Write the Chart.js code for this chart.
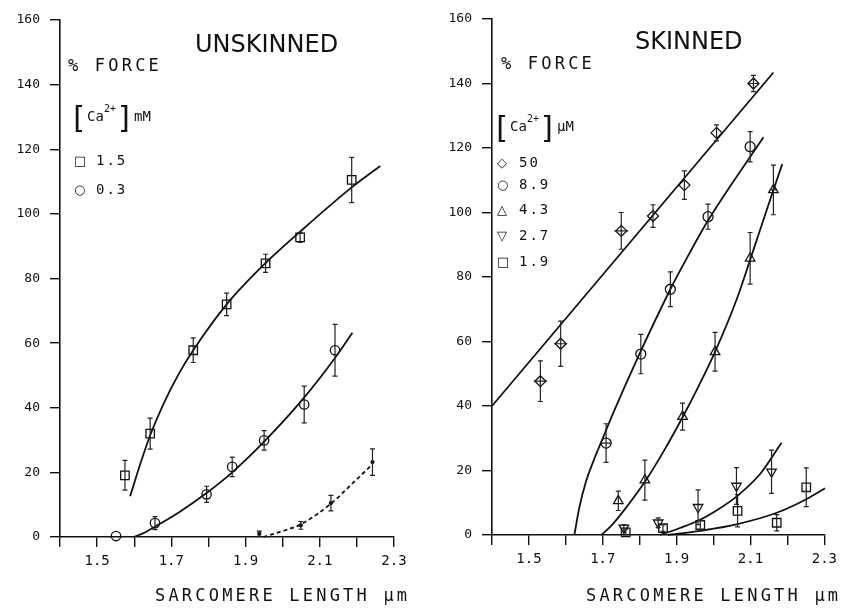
<!DOCTYPE html>
<html>
<head>
<meta charset="utf-8">
<script src="https://cdn.jsdelivr.net/npm/chart.js@4.4.1/dist/chart.umd.min.js"></script>
<style>
    body { margin: 0; background: #fff; width: 843px; height: 608px; overflow: hidden; position: relative;
           font-family: "DejaVu Sans Mono", monospace; color: #111; }
    canvas { position: absolute; top: 0; }
    #leftChart { left: 0; }
    #rightChart { left: 420px; }
    .t { position: absolute; white-space: nowrap; line-height: 1; }
    .title { font-family: "DejaVu Sans", sans-serif; font-size: 24px; }
    .lab { font-size: 17px; letter-spacing: 3.2px; }
    .leg { font-size: 14px; letter-spacing: 2px; }
    .mk { display: inline-block; width: 22px; font-family: "DejaVu Sans", sans-serif; font-size: 13px; letter-spacing: 0; }
    .ca { font-size: 14px; }
    .ca .br { font-size: 30px; font-weight: 200; vertical-align: -7px; }
    .ca sup { font-size: 10px; vertical-align: 9px; }
</style>
</head>
<body>
<canvas id="leftChart" width="420" height="608"></canvas>
<canvas id="rightChart" width="423" height="608"></canvas>

<div class="t title" style="left:195px;top:32px">UNSKINNED</div>
<div class="t title" style="left:635px;top:29px">SKINNED</div>
<div class="t lab" style="left:68px;top:57px">% FORCE</div>
<div class="t lab" style="left:501px;top:55px">% FORCE</div>
<div class="t lab" style="left:155px;top:587px">SARCOMERE LENGTH µm</div>
<div class="t lab" style="left:586px;top:587px">SARCOMERE LENGTH µm</div>

<div class="t ca" style="left:69px;top:103px"><span class="br">[</span>Ca<sup>2+</sup><span class="br">]</span>mM</div>
<div class="t leg" style="left:74px;top:153px"><span class="mk">□</span>1.5</div>
<div class="t leg" style="left:74px;top:182px"><span class="mk">○</span>0.3</div>

<div class="t ca" style="left:492px;top:113px"><span class="br">[</span>Ca<sup>2+</sup><span class="br">]</span>µM</div>
<div class="t leg" style="left:497px;top:155px"><span class="mk">◇</span>50</div>
<div class="t leg" style="left:497px;top:177px"><span class="mk">○</span>8.9</div>
<div class="t leg" style="left:497px;top:202px"><span class="mk">△</span>4.3</div>
<div class="t leg" style="left:497px;top:228px"><span class="mk">▽</span>2.7</div>
<div class="t leg" style="left:497px;top:254px"><span class="mk">□</span>1.9</div>

<script>
    // ===== 坐标轴刻度 =====
    const xTickValues = [1.4, 1.5, 1.6, 1.7, 1.8, 1.9, 2.0, 2.1, 2.2, 2.3];
    const xTickLabels = ["", "1.5", "", "1.7", "", "1.9", "", "2.1", "", "2.3"];
    const yTickValues = [0, 20, 40, 60, 80, 100, 120, 140, 160];

    // ===== UNSKINNED =====
    // [Ca2+] 1.5 mM (方块)
    const unSqX   = [1.575, 1.643, 1.759, 1.849, 1.954, 2.047, 2.186];
    const unSqY   = [19.1, 32, 57.8, 72, 84.7, 92.7, 110.5];
    const unSqErr = [4.6, 4.8, 3.8, 3.5, 2.8, 1.5, 7];
    const unSqFitX = [1.589, 1.616, 1.643, 1.678, 1.72, 1.759, 1.849, 1.954, 2.047, 2.186, 2.263];
    const unSqFitY = [12.6, 22.5, 31.5, 41, 50.5, 57.8, 72, 84.8, 94.5, 108.2, 114.8];

    // [Ca2+] 0.3 mM (圆圈)
    const unCiX   = [1.551, 1.656, 1.795, 1.864, 1.950, 2.058, 2.141];
    const unCiY   = [0.3, 4.3, 13.2, 21.7, 29.9, 41, 57.8];
    const unCiErr = [0, 2, 2.5, 3, 3, 5.7, 8];
    const unCiFitX = [1.598, 1.625, 1.656, 1.72, 1.795, 1.864, 1.950, 2.056, 2.141, 2.188];
    const unCiFitY = [0, 1.2, 3.2, 7.6, 13.6, 20, 29.5, 42.9, 55.4, 63.2];

    // 虚线 (小点)
    const unDotX   = [1.937, 2.049, 2.130, 2.242];
    const unDotY   = [1.0, 3.6, 10.5, 23.2];
    const unDotErr = [0.8, 1.2, 2.4, 4.1];
    const unDotFitX = [1.948, 1.993, 2.049, 2.130, 2.190, 2.242];
    const unDotFitY = [0, 1.6, 3.9, 10.3, 16.8, 22.5];

    // ===== SKINNED =====
    // 50 µM (菱形)
    const skDiX    = [1.531, 1.586, 1.750, 1.836, 1.921, 2.008, 2.108];
    const skDiY    = [47.7, 59.3, 94.3, 98.9, 108.5, 124.7, 140];
    const skDiErr  = [6.3, 7, 5.7, 3.5, 4.4, 2.5, 2.5];
    const skDiXErr = [0.018, 0.018, 0.019, 0, 0, 0, 0.013];
    const skDiFitX = [1.4, 2.162];
    const skDiFitY = [40, 143.4];

    // 8.9 µM (圆圈)
    const skCiX    = [1.709, 1.803, 1.883, 1.985, 2.099];
    const skCiY    = [28.5, 56.1, 76.2, 98.7, 120.4];
    const skCiErr  = [6, 6.1, 5.4, 3.9, 4.7];
    const skCiXErr = [0.015, 0, 0, 0, 0];
    const skCiFitX = [1.623, 1.637, 1.653, 1.676, 1.700, 1.729, 1.796, 1.883, 1.925, 1.985, 2.135];
    const skCiFitY = [0, 8.8, 16, 23.3, 30, 38, 55.3, 76.2, 85.3, 97.5, 123.3];

    // 4.3 µM (正三角)
    const skTuX    = [1.742, 1.814, 1.916, 2.004, 2.099, 2.162];
    const skTuY    = [10.6, 17, 36.7, 56.8, 85.8, 107];
    const skTuErr  = [3, 6.2, 4.2, 6, 8, 7.7];
    const skTuXErr = [0, 0, 0, 0, 0, 0.01];
    const skTuFitX = [1.696, 1.72, 1.751, 1.814, 1.867, 1.916, 1.961, 2.004, 2.064, 2.099, 2.162, 2.186];
    const skTuFitY = [0, 2.5, 6.7, 16.5, 26.4, 36.5, 46.5, 56.8, 73.5, 85.3, 107, 115];

    // 2.7 µM (倒三角)
    const skTdX   = [1.757, 1.850, 1.958, 2.062, 2.157];
    const skTdY   = [2.2, 3.8, 8.6, 15.2, 19.6];
    const skTdErr = [1, 1.5, 5.4, 5.7, 6.7];
    const skTdFitX = [1.855, 1.907, 1.958, 2.010, 2.062, 2.126, 2.184];
    const skTdFitY = [0, 2.1, 4.4, 7.75, 11.9, 18.9, 28.6];

    // 1.9 µM (方块)
    const skSqX   = [1.762, 1.863, 1.964, 2.065, 2.171, 2.251];
    const skSqY   = [0.8, 2.1, 3.1, 7.5, 3.8, 14.8];
    const skSqErr = [1, 1, 1.5, 5, 2.5, 6];
    const skSqFitX = [1.876, 1.964, 2.065, 2.171, 2.251, 2.302];
    const skSqFitY = [0, 1.3, 3.4, 6.9, 11.1, 14.5];

    // ===== 工具函数 =====
    const pts = (xs, ys) => xs.map((v, i) => ({ x: v, y: ys[i] }));
    const INK = "#111111";

    function marks(xs, ys, err, style, extra) {
        return Object.assign({
            data: pts(xs, ys),
            yErr: err,
            showLine: false,
            pointStyle: style,
            pointRadius: 5,
            pointBorderWidth: 1.3,
            borderColor: INK,
            backgroundColor: "rgba(0,0,0,0)",
            clip: false
        }, extra || {});
    }

    function fit(xs, ys, dash) {
        return {
            data: pts(xs, ys),
            showLine: true,
            borderColor: INK,
            borderWidth: 1.8,
            borderDash: dash || [],
            pointRadius: 0,
            cubicInterpolationMode: "monotone",
            fill: false,
            clip: false
        };
    }

    // 误差线插件
    const errorBars = {
        id: "errorBars",
        afterDatasetsDraw(chart) {
            const { ctx, scales: { x, y } } = chart;
            ctx.save();
            ctx.strokeStyle = "#222";
            ctx.lineWidth = 1.2;
            chart.data.datasets.forEach(ds => {
                if (!ds.yErr && !ds.xErr) return;
                ds.data.forEach((p, i) => {
                    const px = x.getPixelForValue(p.x);
                    const py = y.getPixelForValue(p.y);
                    const cap = 2.5;
                    ctx.beginPath();
                    if (ds.yErr && ds.yErr[i]) {
                        const y1 = y.getPixelForValue(p.y + ds.yErr[i]);
                        const y2 = y.getPixelForValue(Math.max(0, p.y - ds.yErr[i]));
                        ctx.moveTo(px, y1); ctx.lineTo(px, y2);
                        ctx.moveTo(px - cap, y1); ctx.lineTo(px + cap, y1);
                        ctx.moveTo(px - cap, y2); ctx.lineTo(px + cap, y2);
                    }
                    if (ds.xErr && ds.xErr[i]) {
                        const x1 = x.getPixelForValue(p.x - ds.xErr[i]);
                        const x2 = x.getPixelForValue(p.x + ds.xErr[i]);
                        ctx.moveTo(x1, py); ctx.lineTo(x2, py);
                    }
                    ctx.stroke();
                });
            });
            ctx.restore();
        }
    };

    function scalesFor(yWidth, xHeight) {
        const tickFont = { family: "DejaVu Sans Mono", size: 14 };
        return {
            x: {
                type: "linear", min: 1.4, max: 2.3,
                afterBuildTicks: s => { s.ticks = xTickValues.map(v => ({ value: v })); },
                afterFit: s => { s.height = xHeight; },
                grid: { drawOnChartArea: false, color: INK, lineWidth: 1.4, tickLength: 10 },
                border: { color: INK, width: 1.6 },
                ticks: { autoSkip: false, maxRotation: 0, padding: 6, color: INK, font: tickFont,
                         callback: (v, i) => xTickLabels[i] }
            },
            y: {
                type: "linear", min: 0, max: 160,
                afterBuildTicks: s => { s.ticks = yTickValues.map(v => ({ value: v })); },
                afterFit: s => { s.width = yWidth; },
                grid: { drawOnChartArea: false, color: INK, lineWidth: 1.4, tickLength: 10 },
                border: { color: INK, width: 1.6 },
                ticks: { padding: 10, color: INK, font: { family: "DejaVu Sans Mono", size: 13 } }
            }
        };
    }

    const baseOptions = (yWidth, xHeight, padding) => ({
        responsive: false,
        animation: false,
        layout: { padding },
        plugins: { legend: { display: false }, tooltip: { enabled: false } },
        scales: scalesFor(yWidth, xHeight)
    });

    // ===== 左图 UNSKINNED =====
    new Chart(document.getElementById("leftChart"), {
        type: "scatter",
        data: {
            datasets: [
                fit(unSqFitX, unSqFitY),
                fit(unCiFitX, unCiFitY),
                fit(unDotFitX, unDotFitY, [4, 3]),
                marks(unSqX, unSqY, unSqErr, "rect", { pointRadius: 6 }),
                marks(unCiX, unCiY, unCiErr, "circle", { pointRadius: 4.7 }),
                marks(unDotX, unDotY, unDotErr, "circle", { pointRadius: 1.5, backgroundColor: INK })
            ]
        },
        options: baseOptions(60, 71, { left: 0, right: 26, top: 20, bottom: 0 }),
        plugins: [errorBars]
    });

    // ===== 右图 SKINNED =====
    new Chart(document.getElementById("rightChart"), {
        type: "scatter",
        data: {
            datasets: [
                fit(skDiFitX, skDiFitY),
                fit(skCiFitX, skCiFitY),
                fit(skTuFitX, skTuFitY),
                fit(skTdFitX, skTdFitY),
                fit(skSqFitX, skSqFitY),
                marks(skDiX, skDiY, skDiErr, "rectRot", { xErr: skDiXErr, pointRadius: 5.5 }),
                marks(skCiX, skCiY, skCiErr, "circle", { xErr: skCiXErr, pointRadius: 5 }),
                marks(skTuX, skTuY, skTuErr, "triangle", { xErr: skTuXErr, pointRadius: 5.5 }),
                marks(skTdX, skTdY, skTdErr, "triangle", { pointRadius: 5.5, rotation: 180 }),
                marks(skSqX, skSqY, skSqErr, "rect", { pointRadius: 6 })
            ]
        },
        options: baseOptions(72, 73, { left: 0, right: 14, top: 19, bottom: 0 }),
        plugins: [errorBars]
    });
</script>
</body>
</html>
